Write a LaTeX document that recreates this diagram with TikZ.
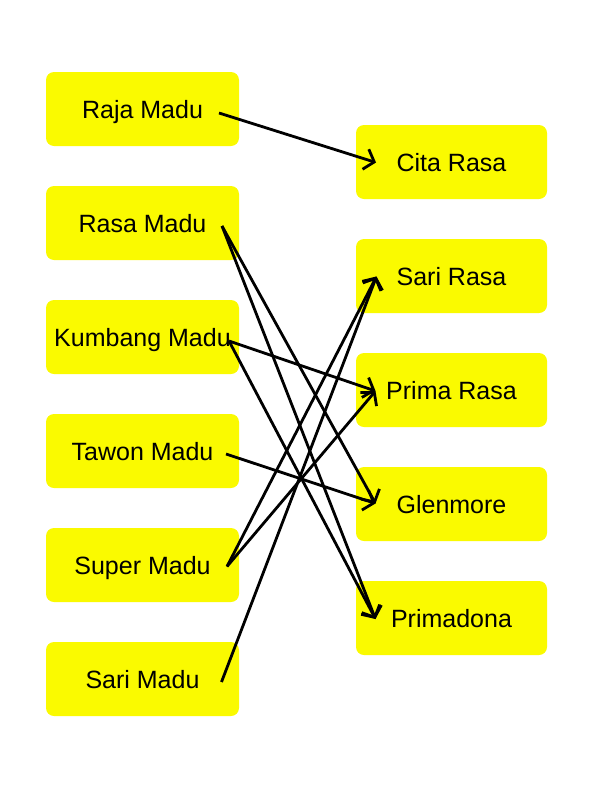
\documentclass[tikz,border=0pt]{standalone}
\usepackage{fontspec}
\setmainfont{Liberation Sans}
\usetikzlibrary{arrows.meta}
\definecolor{boxyellow}{RGB}{250,250,0}
\begin{document}
\begin{tikzpicture}[x=1pt,y=-1pt,
  lbox/.style={fill=boxyellow,rounded corners=8pt,minimum width=193pt,minimum height=74pt,inner sep=0pt,text height=19.5pt,text depth=0pt,font=\fontsize{25}{28}\selectfont},
  rbox/.style={lbox,minimum width=191pt},
  link/.style={line width=2.8pt,-{Straight Barb[length=9pt,width=21pt]}}]
\useasboundingbox (0,0) rectangle (595,790);
% left column
\node[lbox] (raja) at (142.5,109) {Raja Madu};
\node[lbox] (rasa) at (142.5,223) {Rasa Madu};
\node[lbox] (kumbang) at (142.5,337) {Kumbang Madu};
\node[lbox] (tawon) at (142.5,451) {Tawon Madu};
\node[lbox] (super) at (142.5,565) {Super Madu};
\node[lbox] (sarimadu) at (142.5,679) {Sari Madu};
% right column
\node[rbox] (cita) at (451.5,162) {Cita Rasa};
\node[rbox] (sarirasa) at (451.5,276) {Sari Rasa};
\node[rbox] (prima) at (451.5,390) {Prima Rasa};
\node[rbox] (glen) at (451.5,504) {Glenmore};
\node[rbox] (primadona) at (451.5,618) {Primadona};
% anchor points
\coordinate (s1) at ([shift={(76.5,4)}]raja.center);
\coordinate (s2) at ([shift={(79.5,3)}]rasa.center);
\coordinate (s3) at ([shift={(86.5,4)}]kumbang.center);
\coordinate (s4) at ([shift={(83.5,3)}]tawon.center);
\coordinate (s5) at ([shift={(84.5,1.5)}]super.center);
\coordinate (s6) at ([shift={(79,3)}]sarimadu.center);
\coordinate (e1) at ([shift={(-75.5,0.5)}]cita.center);
\coordinate (e2) at ([shift={(-75,0.5)}]sarirasa.center);
\coordinate (e3) at ([shift={(-76,1)}]prima.center);
\coordinate (e4) at ([shift={(-76,-0.5)}]glen.center);
\coordinate (e5) at ([shift={(-76,1)}]primadona.center);
% connectors
\draw[link] (s1) -- (e1);
\draw[link] (s2) -- (e4);
\draw[link] (s2) -- (e5);
\draw[link] (s3) -- (e3);
\draw[link] (s3) -- (e5);
\draw[link] (s4) -- (e4);
\draw[link] (s5) -- (e2);
\draw[link] (s5) -- (e3);
\draw[link] (s6) -- (e2);
\end{tikzpicture}
\end{document}
